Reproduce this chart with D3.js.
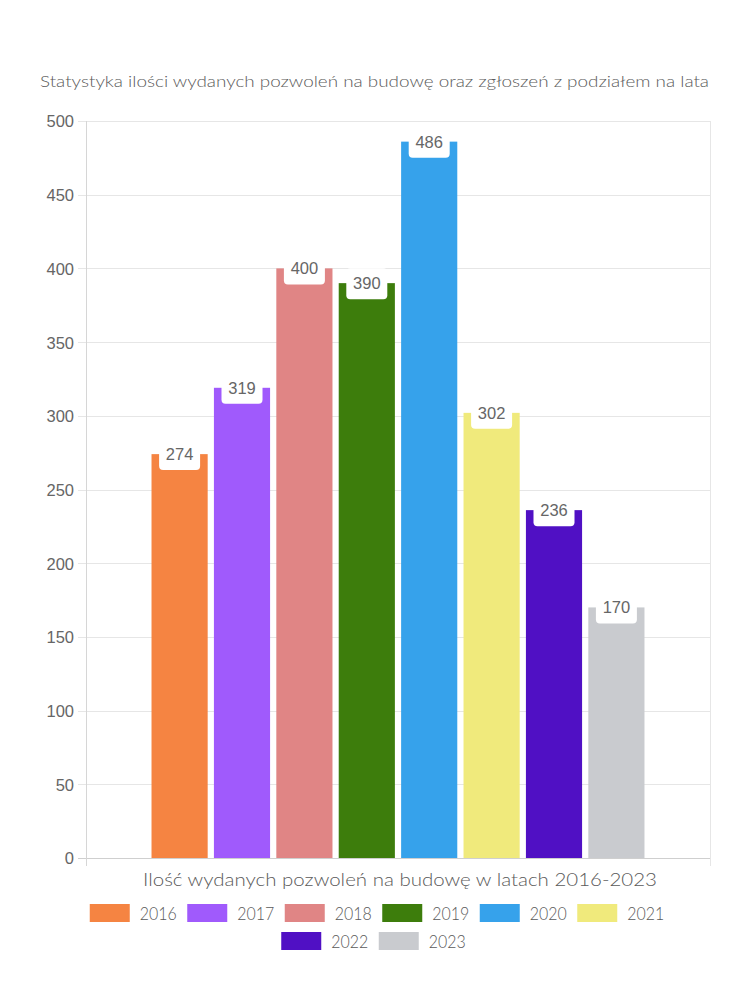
<!DOCTYPE html>
<html>
<head>
<meta charset="utf-8">
<script src="https://cdn.jsdelivr.net/npm/d3@7"></script>
<style>
  html, body { margin: 0; padding: 0; background: #fff; }
  svg { display: block; }
</style>
</head>
<body>
<div id="chart"></div>
<script>
const years = ["2016", "2017", "2018", "2019", "2020", "2021", "2022", "2023"];
const values = [274, 319, 400, 390, 486, 302, 236, 170];
const colors = ["#f58442", "#a05afc", "#e08585", "#3d7d0c", "#36a2eb", "#f0ea7c", "#5010c4", "#c9cbcf"];
const yTicks = [0, 50, 100, 150, 200, 250, 300, 350, 400, 450, 500];
const titleText = "Statystyka ilości wydanych pozwoleń na budowę oraz zgłoszeń z podziałem na lata";
const xTitleText = "Ilość wydanych pozwoleń na budowę w latach 2016-2023";

const W = 750, H = 1000;
const plot = { left: 86, right: 710, top: 121, bottom: 858 };
const roundFont = "Lato, 'Noto Sans', sans-serif";
const numFont = "'Liberation Sans', Arial, sans-serif";
const textColor = "#666";

const svg = d3.select("#chart").append("svg").attr("width", W).attr("height", H);

const y = d3.scaleLinear().domain([0, 500]).range([plot.bottom, plot.top]);
const catW = plot.right - plot.left;
const groupPad = catW * 0.1;
const x = d3.scaleBand().domain(years)
  .range([plot.left + groupPad, plot.right - groupPad])
  .paddingInner(0.1).paddingOuter(0.05);

// title
svg.append("text")
  .attr("x", (40 + 709) / 2).attr("y", 87)
  .attr("text-anchor", "middle")
  .attr("font-family", roundFont).attr("font-size", 16.5).attr("font-weight", 300)
  .attr("fill", "#5a5a5a")
  .attr("textLength", 669).attr("lengthAdjust", "spacingAndGlyphs")
  .text(titleText);

// y gridlines
svg.append("g").selectAll("line").data(yTicks).join("line")
  .attr("x1", plot.left - 8).attr("x2", plot.right)
  .attr("y1", d => Math.round(y(d)) + 0.5).attr("y2", d => Math.round(y(d)) + 0.5)
  .attr("stroke", d => d === 0 ? "#cfcfcf" : "#e6e6e6").attr("stroke-width", 1);

// vertical lines (x grid)
svg.append("g").selectAll("line").data([plot.left, plot.right]).join("line")
  .attr("x1", d => d + 0.5).attr("x2", d => d + 0.5)
  .attr("y1", plot.top).attr("y2", plot.bottom + 8)
  .attr("stroke", (d, i) => i === 0 ? "#d6d6d6" : "#e6e6e6").attr("stroke-width", 1);

// y axis labels
const yAxis = d3.axisLeft(y).tickValues(yTicks).tickSize(0).tickPadding(0);
const yg = svg.append("g").attr("transform", `translate(${plot.left - 12},0)`).call(yAxis);
yg.select(".domain").remove();
yg.selectAll("text")
  .attr("font-family", numFont).attr("font-size", 16.5).attr("fill", textColor)
  .attr("dy", "0.36em");

// bars
svg.append("g").selectAll("rect").data(years).join("rect")
  .attr("x", d => x(d)).attr("width", x.bandwidth())
  .attr("y", (d, i) => y(values[i]))
  .attr("height", (d, i) => plot.bottom - y(values[i]))
  .attr("fill", (d, i) => colors[i]);

// data labels
const lbl = svg.append("g").selectAll("g").data(years).join("g")
  .attr("transform", (d, i) => `translate(${x(d) + x.bandwidth() / 2},${y(values[i])})`);
lbl.append("rect")
  .attr("x", -20.5).attr("width", 41)
  .attr("y", -15).attr("height", 31)
  .attr("rx", 4).attr("fill", "#fff");
lbl.append("text")
  .attr("text-anchor", "middle").attr("y", 6)
  .attr("font-family", numFont).attr("font-size", 16.5).attr("fill", textColor)
  .text((d, i) => values[i]);

// x axis title
svg.append("text")
  .attr("x", (143 + 657) / 2).attr("y", 886)
  .attr("text-anchor", "middle")
  .attr("font-family", roundFont).attr("font-size", 17).attr("font-weight", 300)
  .attr("fill", "#5a5a5a")
  .attr("textLength", 514).attr("lengthAdjust", "spacingAndGlyphs")
  .text(xTitleText);

// legend
const boxW = 40, boxH = 18, gap = 10, textW = 38, itemPad = 9.5, rowH = 28, maxRow = 650;
const items = years.map((yr, i) => ({ yr, i, w: boxW + gap + textW }));
const rows = [];
let cur = [], curW = 0;
items.forEach(it => {
  const add = (cur.length ? itemPad : 0) + it.w;
  if (cur.length && curW + add > maxRow) { rows.push(cur); cur = []; curW = 0; }
  curW += (cur.length ? itemPad : 0) + it.w;
  cur.push(it);
});
if (cur.length) rows.push(cur);
const leg = svg.append("g");
rows.forEach((row, r) => {
  const total = d3.sum(row, d => d.w) + (row.length - 1) * itemPad;
  let cx = W / 2 - total / 2 + (r === 0 ? 2.5 : -1);
  const cy = 913 + r * rowH;
  row.forEach(it => {
    leg.append("rect").attr("x", cx).attr("y", cy - boxH / 2).attr("width", boxW).attr("height", boxH)
      .attr("fill", colors[it.i]);
    leg.append("text").attr("x", cx + boxW + gap).attr("y", cy + 6.5)
      .attr("font-family", roundFont).attr("font-size", 18).attr("font-weight", 300)
      .attr("fill", "#5a5a5a")
      .attr("textLength", textW - 1).attr("lengthAdjust", "spacingAndGlyphs")
      .text(it.yr);
    cx += it.w + itemPad;
  });
});
</script>
</body>
</html>
